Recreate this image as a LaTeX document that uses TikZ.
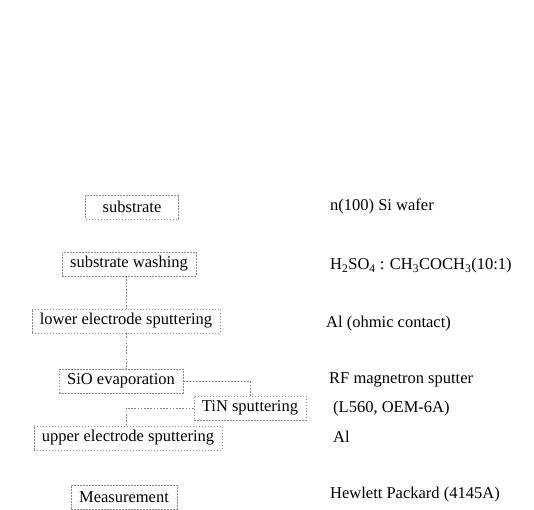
\documentclass[tikz,border=0pt]{standalone}
\usepackage{fontspec}
\setmainfont{Liberation Serif}
\usetikzlibrary{positioning}

\begin{document}
\begin{tikzpicture}[x=1pt, y=-1pt, stepbox/.style={draw=black!45, dash pattern=on 1.6pt off 1.4pt, line width=0.5pt, inner xsep=8pt, minimum height=24pt, font=\fontsize{16.5}{20}\selectfont}, note/.style={anchor=west, inner sep=0pt, font=\fontsize{16.5}{20}\selectfont}, link/.style={draw=black!50, dash pattern=on 1.6pt off 1.6pt, line width=0.5pt}]
\useasboundingbox (0,0) rectangle (534,509);
\coordinate (spine) at (126,0);
\node[stepbox, minimum width=93pt] (sub)   at (132,207) {substrate};
\node[stepbox]                     (wash)  at (129,264) {substrate washing};
\node[stepbox]                     (lower) at (126,321) {lower electrode sputtering};
\node[stepbox]                     (sio)   at (121,381) {SiO evaporation};
\node[stepbox]                     (tin)   at (250,408) {TiN sputtering};
\node[stepbox]                     (upper) at (128,438) {upper electrode sputtering};
\node[stepbox]                     (meas)  at (124,497) {Measurement};
\node[note] (n1) at (330,206) {n(100) Si wafer};
\node[note] (n2) at (330,266) {H\textsubscript{2}SO\textsubscript{4} : CH\textsubscript{3}COCH\textsubscript{3}(10:1)};
\node[note] (n3) at (326,324) {Al (ohmic contact)};
\node[note] (n4) at (329,380) {RF magnetron sputter};
\node[note] (n5) at (333,409) {(L560, OEM-6A)};
\node[note] (n6) at (333,437) {Al};
\node[note] (n7) at (330,495) {Hewlett Packard (4145A)};
\draw[link] (wash.south -| spine) -- (lower.north -| spine);
\draw[link] (lower.south -| spine) -- (sio.north -| spine);
\draw[link] (sio.east) -| (tin.north);
\draw[link] (tin.west) -| (upper.north -| spine);
\end{tikzpicture}
\end{document}
